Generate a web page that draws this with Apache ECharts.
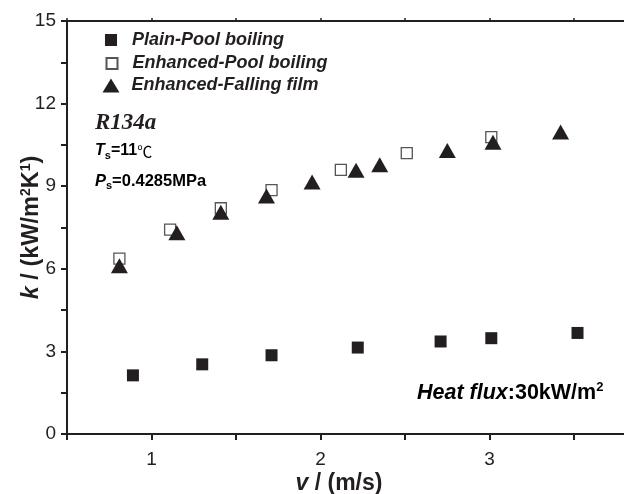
<!DOCTYPE html>
<html>
<head>
<meta charset="utf-8">
<script src="https://cdn.jsdelivr.net/npm/echarts@6/dist/echarts.min.js"></script>
<style>
  html, body { margin: 0; padding: 0; background: #ffffff; }
  #chart { width: 624px; height: 494px; }
</style>
</head>
<body>
<div id="chart"></div>
<script>
// Heat transfer coefficient k versus velocity v, R134a at 30 kW/m2
const seriesNames = ['Plain-Pool boiling', 'Enhanced-Pool boiling', 'Enhanced-Falling film'];

const plainV   = [0.89, 1.30, 1.71, 2.22, 2.71, 3.01, 3.52];
const plainK   = [2.13, 2.53, 2.86, 3.14, 3.36, 3.48, 3.67];

const enhPoolV = [0.81, 1.11, 1.41, 1.71, 2.12, 2.51, 3.01];
const enhPoolK = [6.37, 7.42, 8.20, 8.86, 9.59, 10.20, 10.78];

const enhFilmV = [0.81, 1.15, 1.41, 1.68, 1.95, 2.21, 2.35, 2.75, 3.02, 3.42];
const enhFilmK = [6.11, 7.31, 8.05, 8.64, 9.15, 9.58, 9.78, 10.30, 10.60, 10.97];

const xTickValues  = [0.5, 1, 1.5, 2, 2.5, 3, 3.5];
const xLabelValues = [1, 2, 3];
const yLabelValues = [0, 3, 6, 9, 12, 15];

const INK = '#231f20';
const SANS = '"Liberation Sans", Arial, sans-serif';

const pairs = (xs, ys) => xs.map((x, i) => [x, ys[i]]);

const chart = echarts.init(document.getElementById('chart'), null, { renderer: 'canvas' });

const axisLine = { show: true, lineStyle: { color: INK, width: 2 } };

const legendRows = [
  { top: 31, left: 105, w: 12, h: 12, pad: 10 },
  { top: 54.5, left: 105.5, w: 11, h: 11, pad: 10 },
  { top: 76.5, left: 102.5, w: 17, h: 14, pad: 7 }
];

const option = {
  animation: false,
  backgroundColor: '#ffffff',
  grid: { left: 67, right: 0, top: 21, bottom: 60, containLabel: false, outerBoundsMode: 'none' },
  legend: seriesNames.map((name, i) => ({
    data: [name],
    left: legendRows[i].left,
    top: legendRows[i].top,
    itemWidth: legendRows[i].w,
    itemHeight: legendRows[i].h,
    selectedMode: false,
    padding: 0,
    textStyle: {
      fontFamily: SANS, fontSize: 18, fontWeight: 'bold', fontStyle: 'italic',
      color: INK, padding: [0, 0, 0, legendRows[i].pad]
    }
  })),
  xAxis: [
    {
      type: 'value', position: 'bottom', min: 0.5, max: 3.795,
      axisLine: axisLine,
      splitLine: { show: false },
      axisTick: { show: true, inside: false, length: 6, customValues: xTickValues, lineStyle: { color: INK, width: 2 } },
      axisLabel: { customValues: xLabelValues, margin: 16, fontFamily: SANS, fontSize: 19, color: INK },
      name: '{i|v}{b| / (m/s)}',
      nameLocation: 'middle',
      nameGap: 38.5,
      nameMoveOverlap: false,
      nameTextStyle: {
        padding: [0, 13, 0, 0],
        rich: {
          i: { fontFamily: SANS, fontSize: 23, fontWeight: 'bold', fontStyle: 'italic', color: INK },
          b: { fontFamily: SANS, fontSize: 23, fontWeight: 'bold', color: INK }
        }
      }
    },
    {
      type: 'value', position: 'top', min: 0.5, max: 3.795,
      axisLine: axisLine,
      splitLine: { show: false },
      axisTick: { show: true, inside: false, length: 3, customValues: xTickValues, lineStyle: { color: INK, width: 1.5 } },
      axisLabel: { show: false }
    }
  ],
  yAxis: {
    type: 'value', min: 0, max: 15, interval: 1.5,
    axisLine: axisLine,
    splitLine: { show: false },
    axisTick: { show: true, inside: false, length: 6, lineStyle: { color: INK, width: 2 } },
    axisLabel: {
      margin: 11, fontFamily: SANS, fontSize: 19, color: INK,
      formatter: v => (yLabelValues.includes(Math.round(v * 10) / 10) ? String(Math.round(v)) : '')
    },
    name: '{i|k}{b| / (kW/m}{sup|2}{b|K}{sup|1}{b|)}',
    nameLocation: 'middle',
    nameRotate: 90,
    nameGap: 22,
    nameMoveOverlap: false,
    nameTextStyle: {
      rich: {
        i: { fontFamily: SANS, fontSize: 23.5, fontWeight: 'bold', fontStyle: 'italic', color: INK },
        b: { fontFamily: SANS, fontSize: 23.5, fontWeight: 'bold', color: INK },
        sup: { fontFamily: SANS, fontSize: 14, fontWeight: 'bold', color: INK, padding: [0, 0, 12, 0] }
      }
    }
  },
  series: [
    {
      name: seriesNames[0], type: 'scatter', symbol: 'rect', symbolSize: 12,
      itemStyle: { color: INK, opacity: 1 },
      data: pairs(plainV, plainK), z: 2
    },
    {
      name: seriesNames[1], type: 'scatter', symbol: 'rect', symbolSize: 11,
      itemStyle: { color: '#ffffff', borderColor: '#555555', borderWidth: 1.3, opacity: 1 },
      data: pairs(enhPoolV, enhPoolK), z: 3
    },
    {
      name: seriesNames[2], type: 'scatter', symbol: 'triangle', symbolSize: [17, 15],
      itemStyle: { color: INK, opacity: 1 },
      data: pairs(enhFilmV, enhFilmK), z: 4
    }
  ],
  graphic: [
    {
      type: 'text', left: 95, top: 112,
      style: { text: 'R134a', fontFamily: '"Liberation Serif", "Times New Roman", serif', fontSize: 23, fontWeight: 'bold', fontStyle: 'italic', fill: INK }
    },
    {
      type: 'text', left: 95, top: 143,
      style: {
        text: '{i|T}{sub|s}{b|=11}{c|℃}',
        rich: {
          i: { fontFamily: SANS, fontSize: 16, fontWeight: 'bold', fontStyle: 'italic', color: INK },
          sub: { fontFamily: SANS, fontSize: 11, fontWeight: 'bold', color: INK, padding: [9, 0, 0, 0] },
          b: { fontFamily: SANS, fontSize: 16, fontWeight: 'bold', color: INK },
          c: { fontFamily: '"Noto Sans CJK SC", "DejaVu Sans", sans-serif', fontSize: 15, fontWeight: 'normal', color: INK }
        }
      }
    },
    {
      type: 'text', left: 95, top: 173,
      style: {
        text: '{i|P}{sub|s}{b|=0.4285MPa}',
        rich: {
          i: { fontFamily: SANS, fontSize: 16.5, fontWeight: 'bold', fontStyle: 'italic', color: INK },
          sub: { fontFamily: SANS, fontSize: 11, fontWeight: 'bold', color: INK, padding: [9, 0, 0, 0] },
          b: { fontFamily: SANS, fontSize: 16.5, fontWeight: 'bold', color: INK }
        }
      }
    },
    {
      type: 'text', left: 417, top: 381,
      style: {
        text: '{i|Heat flux}{b|:30kW/m}{sup|2}',
        rich: {
          i: { fontFamily: SANS, fontSize: 21.5, fontWeight: 'bold', fontStyle: 'italic', color: INK },
          b: { fontFamily: SANS, fontSize: 21.5, fontWeight: 'bold', color: INK },
          sup: { fontFamily: SANS, fontSize: 13, fontWeight: 'bold', color: INK, padding: [0, 0, 12, 0] }
        }
      }
    }
  ]
};

chart.setOption(option);
</script>
</body>
</html>
